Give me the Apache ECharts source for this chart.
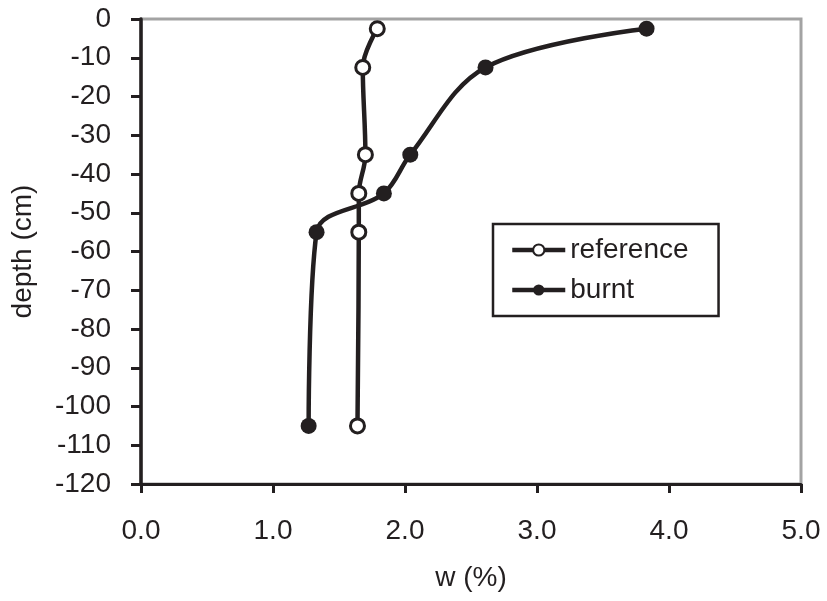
<!DOCTYPE html>
<html>
<head>
<meta charset="utf-8">
<script src="https://cdn.jsdelivr.net/npm/echarts@6/dist/echarts.min.js"></script>
<style>
  html, body { margin: 0; padding: 0; background: #fff; }
  #chart { width: 827px; height: 601px; }
</style>
</head>
<body>
<div id="chart"></div>
<script>
// depth (cm) of each sample
const depths = [-2.5, -12.5, -35, -45, -55, -105]
// w (%) per profile
const referenceW = [1.79, 1.68, 1.70, 1.65, 1.65, 1.64]
const burntW = [3.83, 2.61, 2.04, 1.84, 1.33, 1.27]

const INK = '#231f20'
const FONT = 'Liberation Sans, Arial, sans-serif'
const FS = 28

const pairs = (xs) => xs.map((x, i) => [x, depths[i]])

const chart = echarts.init(document.getElementById('chart'))

chart.setOption({
  animation: false,
  textStyle: { fontFamily: FONT, color: INK },
  grid: {
    left: 141, right: 26, top: 19, bottom: 117,
    show: true,
    borderColor: '#a3a3a3',
    borderWidth: 3
  },
  legend: {
    orient: 'vertical',
    left: 493,
    top: 224,
    padding: [12, 30, 12, 17],
    itemWidth: 53,
    itemHeight: 14,
    itemGap: 12,
    itemTextGap: 4,
    borderColor: INK,
    borderWidth: 2.5,
    lineStyle: { width: 4.5 },
    textStyle: { fontSize: FS, color: INK, fontFamily: FONT },
    data: ['reference', 'burnt']
  },
  xAxis: {
    type: 'value',
    min: 0, max: 5, interval: 1,
    name: 'w (%)',
    nameLocation: 'middle',
    nameGap: 80,
    nameTextStyle: { fontSize: FS, color: INK },
    axisLine: { show: true, onZero: false, lineStyle: { color: INK, width: 3 } },
    axisTick: { show: true, length: 9, lineStyle: { color: INK, width: 3 } },
    axisLabel: {
      margin: 33, fontSize: FS, color: INK,
      formatter: (v) => v.toFixed(1)
    },
    splitLine: { show: false }
  },
  yAxis: {
    type: 'value',
    min: -120, max: 0, interval: 10,
    name: 'depth (cm)',
    nameLocation: 'middle',
    nameGap: 104,
    nameTextStyle: { fontSize: FS, color: INK },
    axisLine: { show: true, onZero: false, lineStyle: { color: INK, width: 3.5 } },
    axisTick: { show: true, length: 10, lineStyle: { color: INK, width: 3 } },
    axisLabel: { margin: 30, fontSize: FS, color: INK },
    splitLine: { show: false }
  },
  series: [
    {
      name: 'reference',
      type: 'line',
      data: pairs(referenceW),
      smooth: 0.35,
      symbol: 'circle',
      symbolSize: 14,
      lineStyle: { color: INK, width: 4.5 },
      itemStyle: { color: '#fff', borderColor: INK, borderWidth: 3 },
      z: 3
    },
    {
      name: 'burnt',
      type: 'line',
      data: pairs(burntW),
      smooth: 0.35,
      symbol: 'circle',
      symbolSize: 16,
      lineStyle: { color: INK, width: 4.5 },
      itemStyle: { color: INK, borderColor: INK, borderWidth: 0 },
      z: 2
    }
  ]
})
</script>
</body>
</html>
